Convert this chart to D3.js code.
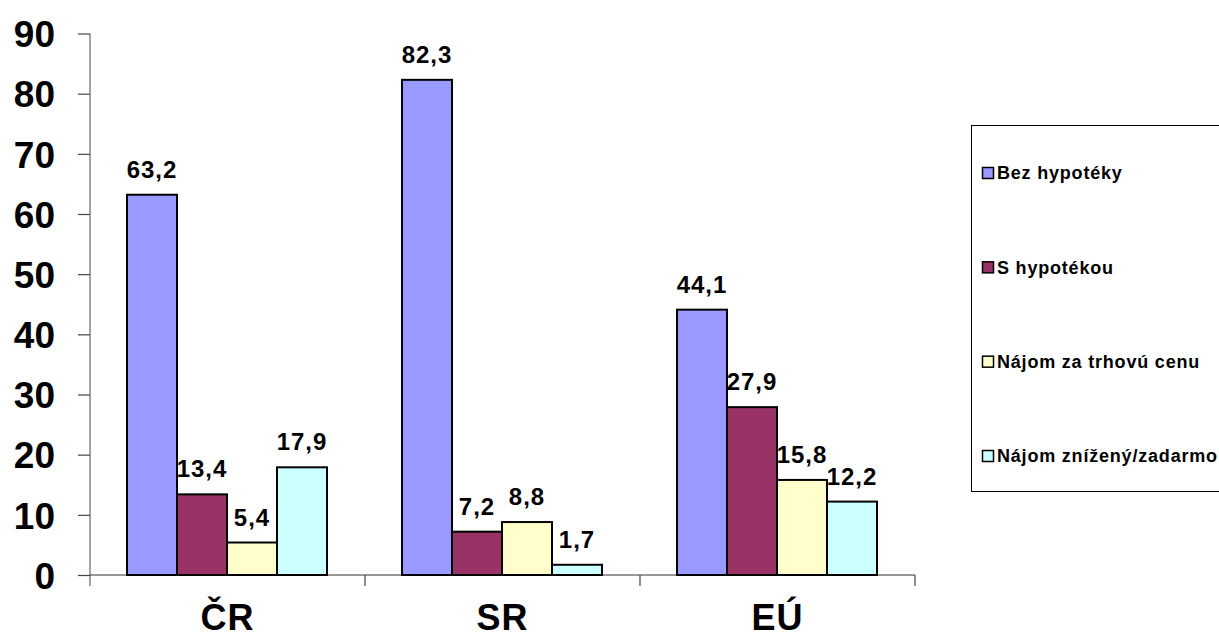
<!DOCTYPE html>
<html>
<head>
<meta charset="utf-8">
<script src="https://cdn.jsdelivr.net/npm/d3@7"></script>
<style>
  body { margin: 0; background: #fff; }
  svg text { font-family: "Liberation Sans", Arial, sans-serif; font-weight: bold; fill: #000; }
</style>
</head>
<body>
<div id="chart"></div>
<script>
// data
const categories = ["ČR", "SR", "EÚ"];
const seriesNames = ["Bez hypotéky", "S hypotékou", "Nájom za trhovú cenu", "Nájom znížený/zadarmo"];
const bezHypoteky = [63.2, 82.3, 44.1];
const sHypotekou = [13.4, 7.2, 27.9];
const najomTrh = [5.4, 8.8, 15.8];
const najomZnizeny = [17.9, 1.7, 12.2];
const yTicks = [0, 10, 20, 30, 40, 50, 60, 70, 80, 90];
const colors = ["#9999FF", "#993366", "#FFFFCC", "#CCFFFF"];

const seriesValues = [bezHypoteky, sHypotekou, najomTrh, najomZnizeny];

const width = 1219;
const height = 639;

const svg = d3.select("#chart")
    .append("svg")
    .attr("width", width)
    .attr("height", height);

const x0 = d3.scaleBand()
    .domain(categories)
    .range([90, 915]);

const x1 = d3.scaleBand()
    .domain(seriesNames)
    .range([37, 237]);

const y = d3.scaleLinear()
    .domain([0, 90])
    .range([575, 33.5]);

// y axis
const yAxis = svg.append("g")
    .attr("transform", "translate(90,0)")
    .call(d3.axisLeft(y).tickValues(yTicks).tickSize(12).tickPadding(23));
yAxis.select(".domain").attr("stroke", "#666").attr("stroke-width", 1.2)
    .attr("d", `M0,${y(90)}V586`);
yAxis.selectAll(".tick line").attr("stroke", "#444").attr("stroke-width", 1.2);
yAxis.selectAll(".tick text").style("font-size", "37px").attr("dy", "0.36em");

// x axis baseline and category separators
svg.append("line")
    .attr("x1", 90).attr("x2", 915)
    .attr("y1", y(0)).attr("y2", y(0))
    .attr("stroke", "#333").attr("stroke-width", 1.2);

const bounds = categories.map(c => x0(c)).concat([x0(categories[categories.length - 1]) + x0.bandwidth()]);
svg.selectAll(".sep")
    .data(bounds.slice(1))
    .join("line")
    .attr("class", "sep")
    .attr("x1", d => d).attr("x2", d => d)
    .attr("y1", y(0)).attr("y2", 586)
    .attr("stroke", "#444").attr("stroke-width", 1.2);

svg.selectAll(".cat")
    .data(categories)
    .join("text")
    .attr("class", "cat")
    .attr("x", d => x0(d) + x0.bandwidth() / 2)
    .attr("y", 630)
    .attr("text-anchor", "middle")
    .style("font-size", "36px")
    .style("letter-spacing", "1px")
    .text(d => d);

// bars
const flat = [];
categories.forEach((c, ci) => {
    seriesNames.forEach((s, si) => {
        flat.push({ cat: c, series: s, value: seriesValues[si][ci], color: colors[si] });
    });
});

const groups = svg.selectAll(".bar")
    .data(flat)
    .join("g")
    .attr("class", "bar");

groups.append("rect")
    .attr("x", d => x0(d.cat) + x1(d.series))
    .attr("y", d => y(d.value))
    .attr("width", x1.bandwidth())
    .attr("height", d => y(0) - y(d.value))
    .attr("fill", d => d.color)
    .attr("stroke", "#000")
    .attr("stroke-width", 2);

groups.append("text")
    .attr("x", d => x0(d.cat) + x1(d.series) + x1.bandwidth() / 2)
    .attr("y", d => y(d.value) - 17)
    .attr("text-anchor", "middle")
    .style("font-size", "24px")
    .style("letter-spacing", "1px")
    .text(d => d3.format(".1f")(d.value).replace(".", ","));

// legend
svg.append("rect")
    .attr("x", 971.5).attr("y", 125.5)
    .attr("width", 260).attr("height", 366)
    .attr("fill", "#fff")
    .attr("stroke", "#000")
    .attr("stroke-width", 1);

const legendY = d3.scalePoint()
    .domain(seriesNames)
    .range([173, 456]);

const items = svg.selectAll(".legend")
    .data(seriesNames)
    .join("g")
    .attr("class", "legend")
    .attr("transform", d => `translate(982,${legendY(d)})`);

items.append("rect")
    .attr("x", 0.5).attr("y", -5.5)
    .attr("width", 11).attr("height", 11)
    .attr("fill", (d, i) => colors[i])
    .attr("stroke", "#000")
    .attr("stroke-width", 1.5);

items.append("text")
    .attr("x", 15)
    .attr("dy", "0.36em")
    .style("font-size", "18px")
    .style("letter-spacing", "0.8px")
    .text(d => d);
</script>
</body>
</html>
